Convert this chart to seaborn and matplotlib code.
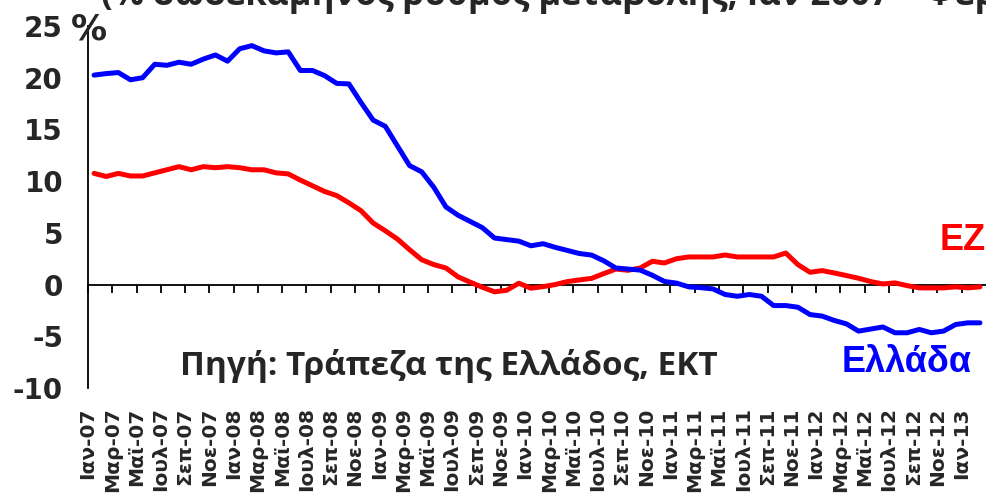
import pandas as pd
import seaborn as sns
import matplotlib.pyplot as plt

# monthly data, Jan 2007 - Feb 2013
months = ['Ιαν', 'Φεβ', 'Μαρ', 'Απρ', 'Μαϊ', 'Ιουν', 'Ιουλ', 'Αυγ', 'Σεπ', 'Οκτ', 'Νοε', 'Δεκ']
dates = [f'{m}-{y:02d}' for y in range(7, 14) for m in months][:74]

greece = [20.25, 20.4, 20.5, 19.8, 20.0, 21.3, 21.2, 21.5, 21.3, 21.8, 22.2, 21.6,
          22.8, 23.1, 22.6, 22.4, 22.5, 20.7, 20.7, 20.2, 19.45, 19.4, 17.6, 15.9,
          15.3, 13.4, 11.5, 10.9, 9.4, 7.5, 6.7, 6.1, 5.5, 4.5, 4.35, 4.2,
          3.75, 3.95, 3.6, 3.3, 3.0, 2.85, 2.3, 1.6, 1.5, 1.4, 0.9, 0.3,
          0.14, -0.22, -0.3, -0.42, -0.96, -1.13, -0.96, -1.13, -2.03, -2.03, -2.19, -2.9,
          -3.05, -3.47, -3.8, -4.5, -4.3, -4.1, -4.66, -4.66, -4.34, -4.66, -4.5, -3.86,
          -3.7, -3.7]

ez = [10.75, 10.45, 10.75, 10.5, 10.5, 10.8, 11.1, 11.4, 11.1, 11.4, 11.3, 11.4,
      11.3, 11.1, 11.1, 10.8, 10.7, 10.1, 9.55, 9.0, 8.6, 7.9, 7.14, 5.95,
      5.2, 4.4, 3.37, 2.4, 1.93, 1.6, 0.74, 0.23, -0.26, -0.7, -0.55, 0.13,
      -0.35, -0.2, 0.0, 0.29, 0.45, 0.6, 1.06, 1.5, 1.38, 1.6, 2.25, 2.09,
      2.5, 2.67, 2.67, 2.67, 2.86, 2.67, 2.67, 2.67, 2.67, 3.05, 1.93, 1.19,
      1.35, 1.12, 0.87, 0.61, 0.29, 0.06, 0.16, -0.1, -0.32, -0.32, -0.32, -0.22,
      -0.32, -0.22]

df = pd.DataFrame({'pos': range(len(dates)), 'date': dates, 'Ελλάδα': greece, 'ΕΖ': ez})

sns.set_style('white')
plt.rcParams['font.family'] = ['DejaVu Sans']
plt.rcParams['axes.unicode_minus'] = False

fig = plt.figure(figsize=(9.86, 4.94), dpi=100)
ax = fig.add_axes([88 / 986, 1 - 388 / 494, 1 - 88 / 986, (388 - 26) / 494])

sns.lineplot(data=df, x='pos', y='ΕΖ', color='#ff0000', linewidth=3.6, ax=ax)
sns.lineplot(data=df, x='pos', y='Ελλάδα', color='#0000ff', linewidth=3.6, ax=ax)

ax.set_xlim(-0.5, len(dates) - 0.5)
ax.set_ylim(-10, 25)
ax.set_yticks(range(-10, 26, 5))
ax.set_xlabel('')
ax.set_ylabel('')

for s in ['top', 'right', 'bottom']:
    ax.spines[s].set_visible(False)
ax.spines['left'].set_color('black')
ax.spines['left'].set_linewidth(1.3)

# labels every two months at the bottom (drawn on the category boundaries, as in the original)
ax.set_xticks(df['pos'][::2] - 0.5)
ax.set_xticklabels(df['date'][::2], rotation=90, fontsize=14.5, fontweight='bold')
ax.tick_params(axis='x', length=0, pad=14)
ax.tick_params(axis='y', direction='out', length=8, width=1.3, color='black',
               labelsize=20, pad=10)
for t in ax.get_yticklabels():
    t.set_fontweight('bold')

# zero axis with tick marks between categories
zero = ax.secondary_xaxis(10 / 35)
zero.set_xticks([p - 0.5 for p in range(0, len(dates), 2)])
zero.set_xticklabels([])
zero.tick_params(direction='out', length=6, width=1.3, color='black')
zero.spines['bottom'].set_color('black')
zero.spines['bottom'].set_linewidth(1.3)

fig.text(89 / 986, 1 - 29 / 494, '%', fontsize=26, fontweight='bold', ha='center', va='center')
fig.text(101 / 986, 1 - 5 / 494, '(% δωδεκάμηνος ρυθμός μεταβολής, Ιαν 2007 – Φεβρ. 2013)',
         fontsize=25, fontweight='bold', family='Open Sans', ha='left', va='baseline')

ax.text(180 / 986, 1 - 366 / 494, 'Πηγή: Τράπεζα της Ελλάδος, ΕΚΤ', transform=fig.transFigure,
        fontsize=24, fontweight='bold', family='Open Sans', ha='left', va='center')
ax.text(972 / 986, 1 - 362 / 494, 'Ελλάδα', transform=fig.transFigure, color='#0000ff',
        fontsize=26, fontweight='bold', family='Liberation Sans', ha='right', va='center')
ax.text(986 / 986, 1 - 240 / 494, 'ΕΖ', transform=fig.transFigure, color='#ff0000',
        fontsize=26, fontweight='bold', family='Liberation Sans', ha='right', va='center')

fig.savefig('out.png', dpi=100)
